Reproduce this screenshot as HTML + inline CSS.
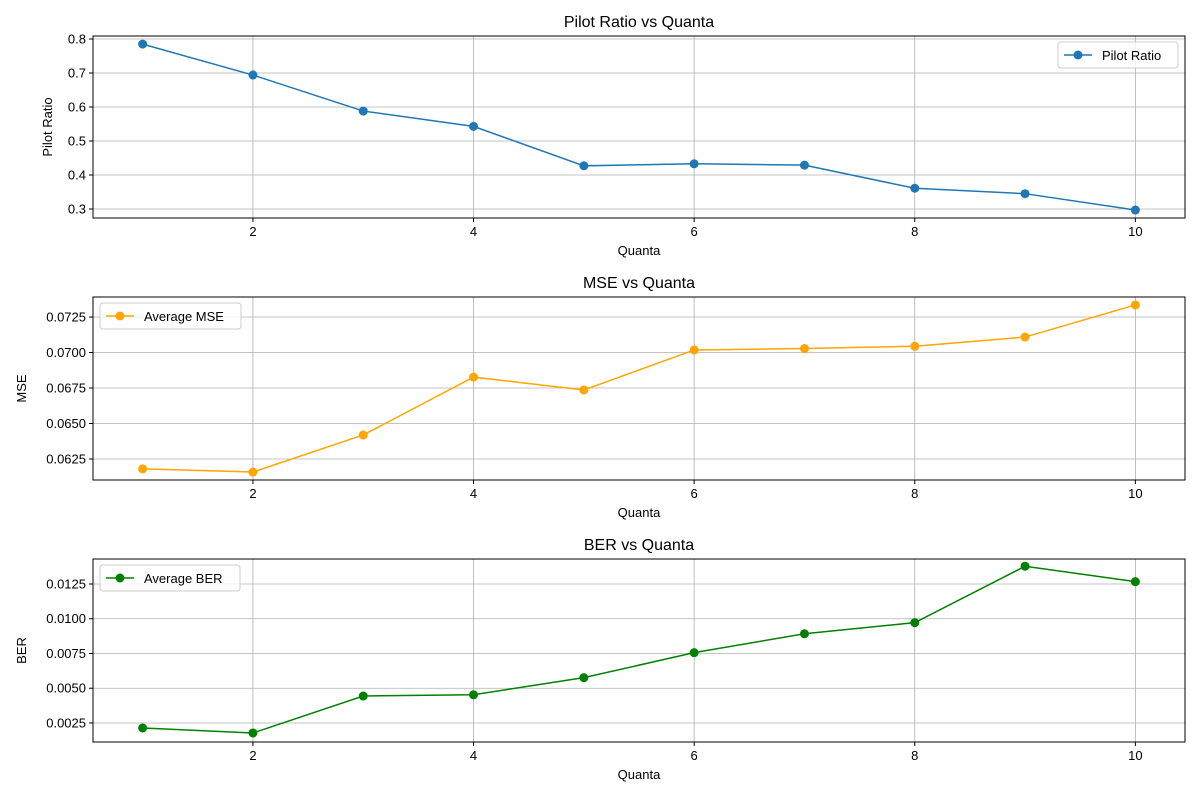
<!DOCTYPE html>
<html><head><meta charset="utf-8"><style>
html,body{margin:0;padding:0;background:#fff}
svg{display:block;font-family:"Liberation Sans","DejaVu Sans",sans-serif}
</style></head><body>
<svg id="c" width="1200" height="800"></svg>
<script>
const quanta=[1,2,3,4,5,6,7,8,9,10];
const pilotRatio=[0.785,0.694,0.588,0.543,0.427,0.433,0.429,0.361,0.345,0.297];
const avgMSE=[0.06180,0.06158,0.06419,0.06827,0.06736,0.07018,0.07028,0.07044,0.07109,0.07335];
const avgBER=[0.00214,0.00178,0.00444,0.00453,0.00576,0.00756,0.00892,0.00972,0.01378,0.01267];
const xTicks=[2,4,6,8,10];
const pilotTicks=[0.3,0.4,0.5,0.6,0.7,0.8];
const mseTicks=[0.0625,0.0650,0.0675,0.0700,0.0725];
const berTicks=[0.0025,0.0050,0.0075,0.0100,0.0125];
const NS='http://www.w3.org/2000/svg';
const svg=document.getElementById('c');
function el(t,a,p){const e=document.createElementNS(NS,t);for(const k in a)e.setAttribute(k,a[k]);(p||svg).appendChild(e);return e;}
const L=93,R=1185;
function xs(v){return L+(v-0.55)/(10.45-0.55)*(R-L);}
function panel(cfg){
  const g=el('g',{});
  
  
  const ys=v=>cfg.bot-(v-cfg.ymin)/(cfg.ymax-cfg.ymin)*(cfg.bot-cfg.top);
  // grid
  xTicks.forEach(t=>{const l=el('line',{x1:xs(t),x2:xs(t),y1:cfg.top,y2:cfg.bot,stroke:'#b0b0b0','stroke-width':0.8},g);});
  cfg.ticks.forEach(t=>{const l=el('line',{x1:L,x2:R,y1:ys(t),y2:ys(t),stroke:'#b0b0b0','stroke-width':0.8},g);});
  // ticks
  xTicks.forEach(t=>{el('line',{x1:xs(t),x2:xs(t),y1:cfg.bot,y2:cfg.bot+4,stroke:'#000'},g);const tx=el('text',{x:xs(t),y:cfg.bot+18,'font-size':13,'text-anchor':'middle'},g);tx.textContent=t;});
  cfg.ticks.forEach(t=>{el('line',{x1:L-4,x2:L,y1:ys(t),y2:ys(t),stroke:'#000'},g);const tx=el('text',{x:L-7,y:ys(t)+4.5,'font-size':13,'text-anchor':'end'},g);tx.textContent=t.toFixed(cfg.dec);});
  // line
  const pts=quanta.map((q,i)=>xs(q)+','+ys(cfg.data[i])).join(' ');
  const pl=el('polyline',{points:pts,fill:'none',stroke:cfg.color,'stroke-width':1.5},g);
  
  quanta.forEach((q,i)=>{const c=el('circle',{cx:xs(q),cy:ys(cfg.data[i]),r:4.5,fill:cfg.color},g);});
  el('rect',{x:L,y:cfg.top,width:R-L,height:cfg.bot-cfg.top,fill:'none',stroke:'#000','stroke-width':1},g);
  const ti=el('text',{x:(L+R)/2,y:cfg.top-9,'font-size':16,'text-anchor':'middle'},g);ti.textContent=cfg.title;
  const xl=el('text',{x:(L+R)/2,y:cfg.bot+37,'font-size':13,'text-anchor':'middle'},g);xl.textContent='Quanta';
  const cy=(cfg.top+cfg.bot)/2;
  const yl=el('text',{x:cfg.ylx,y:cy,'font-size':13,'text-anchor':'middle',transform:'rotate(-90 '+cfg.ylx+' '+cy+')'},g);yl.textContent=cfg.ylabel;
  // legend
  const lg=el('g',{},g);
  el('rect',{x:cfg.lx,y:cfg.top+6,width:cfg.lw,height:26,rx:3,fill:'#fff','fill-opacity':0.8,stroke:'#ccc'},lg);
  el('line',{x1:cfg.lx+6,x2:cfg.lx+34,y1:cfg.top+19,y2:cfg.top+19,stroke:cfg.color,'stroke-width':1.5},lg);
  el('circle',{cx:cfg.lx+20,cy:cfg.top+19,r:4.5,fill:cfg.color},lg);
  const lt=el('text',{x:cfg.lx+44,y:cfg.top+24,'font-size':13},lg);lt.textContent=cfg.label;
}
panel({name:'pilot-ratio',top:36,bot:218,ymin:0.2735,ymax:0.8088,ticks:pilotTicks,dec:1,data:pilotRatio,color:'#1f77b4',title:'Pilot Ratio vs Quanta',ylabel:'Pilot Ratio',ylx:52,lx:1058,lw:120,label:'Pilot Ratio'});
panel({name:'mse',top:297,bot:480,ymin:0.06102,ymax:0.07391,ticks:mseTicks,dec:4,data:avgMSE,color:'#ffa500',title:'MSE vs Quanta',ylabel:'MSE',ylx:26,lx:100,lw:141,label:'Average MSE'});
panel({name:'ber',top:559,bot:742,ymin:0.00113,ymax:0.0143,ticks:berTicks,dec:4,data:avgBER,color:'#008000',title:'BER vs Quanta',ylabel:'BER',ylx:26,lx:100,lw:140,label:'Average BER'});
</script>
</body></html>
